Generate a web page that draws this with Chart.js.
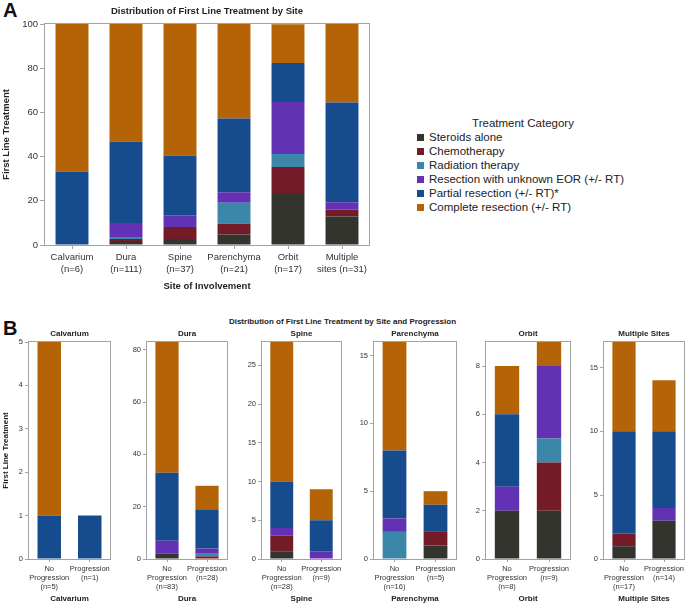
<!DOCTYPE html>
<html>
<head>
<meta charset="utf-8">
<script src="https://cdn.jsdelivr.net/npm/chart.js@4"></script>
<style>
  body { margin: 0; width: 685px; height: 604px; overflow: hidden; background: #fff; position: relative; font-family: "Liberation Sans", Arial, sans-serif; }
  canvas { position: absolute; }
  .panel { position: absolute; font-weight: bold; font-size: 20px; line-height: 20px; color: #111; }
  .maintitle { position: absolute; left: 0; width: 685px; text-align: center; font-weight: bold; font-size: 8px; line-height: 10px; color: #222; }
  #legendA { position: absolute; left: 417px; top: 116px; width: 212px; font-size: 11.5px; line-height: 14px; color: #222; }
  #legendA .ttl { text-align: center; }
  #legendA .row { display: flex; align-items: center; height: 14px; white-space: nowrap; }
  #legendA .sw { width: 7px; height: 7px; margin-right: 5px; flex: none; }
</style>
</head>
<body>
<div class="panel" style="left:3px; top:0px;">A</div>
<div class="panel" style="left:3px; top:318px;">B</div>
<div class="maintitle" style="top:317px;">Distribution of First Line Treatment by Site and Progression</div>
<canvas id="chartA" width="375" height="300" style="left:0; top:0;"></canvas>
<div id="legendA"></div>

<script>
// categories
const siteLabels = [['Calvarium', '(n=6)'], ['Dura', '(n=111)'], ['Spine', '(n=37)'],
    ['Parenchyma', '(n=21)'], ['Orbit', '(n=17)'], ['Multiple', 'sites (n=31)']];
const treatments = ['Steroids alone', 'Chemotherapy', 'Radiation therapy',
    'Resection with unknown EOR (+/- RT)', 'Partial resection (+/- RT)*', 'Complete resection (+/- RT)'];
const treatmentColors = ['#33342e', '#741b28', '#3b87a9', '#6331b4', '#164b8d', '#b46406'];

// panel A - percent of patients per site
const pctSteroids   = [0, 1.8, 2.7, 4.8, 23.5, 12.9];
const pctChemo      = [0, 0.9, 5.4, 4.8, 11.8, 3.2];
const pctRadiation  = [0, 0.9, 0, 9.5, 5.9, 0];
const pctUnknownEOR = [0, 6.3, 5.4, 4.8, 23.5, 3.2];
const pctPartial    = [33.3, 36.9, 27.0, 33.3, 17.6, 45.2];
const pctComplete   = [66.7, 53.2, 59.5, 42.9, 17.6, 35.5];
const pctTicks = [0, 20, 40, 60, 80, 100];

// panel B - counts, [no progression, progression] for each site
const progSites = ['Calvarium', 'Dura', 'Spine', 'Parenchyma', 'Orbit', 'Multiple Sites'];
const progLabels = [
    [['No', 'Progression', '(n=5)'], ['Progression', '(n=1)']],
    [['No', 'Progression', '(n=83)'], ['Progression', '(n=28)']],
    [['No', 'Progression', '(n=28)'], ['Progression', '(n=9)']],
    [['No', 'Progression', '(n=16)'], ['Progression', '(n=5)']],
    [['No', 'Progression', '(n=8)'], ['Progression', '(n=9)']],
    [['No', 'Progression', '(n=17)'], ['Progression', '(n=14)']]
];
const nSteroids   = [[0, 0], [2, 0], [1, 0], [0, 1], [2, 2], [1, 3]];
const nChemo      = [[0, 0], [0, 1], [2, 0], [0, 1], [0, 2], [1, 0]];
const nRadiation  = [[0, 0], [0, 1], [0, 0], [2, 0], [0, 1], [0, 0]];
const nUnknownEOR = [[0, 0], [5, 2], [1, 1], [1, 0], [1, 3], [0, 1]];
const nPartial    = [[1, 1], [26, 15], [6, 4], [5, 2], [3, 0], [8, 6]];
const nComplete   = [[4, 0], [50, 9], [18, 4], [8, 1], [2, 1], [7, 4]];
const progTickStep = [1, 20, 5, 5, 2, 5];

// layout of the small multiples (plot left / right in px)
const progPlots = [[29, 110], [147, 227], [262, 341], [374, 456], [486, 570], [604, 684]];

const FONT = '"Liberation Sans", Arial, sans-serif';
const FRAME = '#a2a2a2';

Chart.defaults.font.family = FONT;
Chart.defaults.color = '#333';

const framePlugin = {
    id: 'frame',
    afterDatasetsDraw(chart) {
        const { ctx, chartArea: a } = chart;
        ctx.save();
        ctx.strokeStyle = FRAME;
        ctx.lineWidth = 1;
        ctx.strokeRect(Math.round(a.left) - 0.5, Math.round(a.top) - 0.5,
            Math.round(a.right - a.left) + 1, Math.round(a.bottom - a.top) + 1);
        ctx.restore();
    }
};

function stackedDatasets(seriesList) {
    return seriesList.map((data, i) => ({
        label: treatments[i],
        data: data,
        backgroundColor: treatmentColors[i],
        borderWidth: 0
    }));
}

function barOptions(cfg) {
    return {
        responsive: false,
        animation: false,
        devicePixelRatio: 1,
        layout: { padding: { left: 0, right: cfg.padRight, top: 0, bottom: 0 } },
        plugins: {
            legend: { display: false },
            tooltip: { enabled: false },
            title: {
                display: true,
                text: cfg.title,
                fullSize: false,
                color: '#222',
                font: { size: cfg.titleSize, weight: 'bold' },
                padding: cfg.titlePad
            }
        },
        scales: {
            x: {
                stacked: true,
                offset: true,
                afterFit: (s) => { s.height = cfg.xHeight; },
                border: { display: false },
                grid: { offset: false, drawOnChartArea: false, tickLength: cfg.tickLen, color: FRAME },
                ticks: {
                    color: '#333',
                    padding: 3,
                    maxRotation: 0,
                    minRotation: 0,
                    autoSkip: false,
                    font: { size: cfg.tickSize, lineHeight: cfg.lineHeight }
                },
                title: {
                    display: true,
                    text: cfg.xTitle,
                    color: '#222',
                    font: { size: cfg.titleSize, weight: 'bold' },
                    padding: { top: 0, bottom: cfg.xTitlePad }
                }
            },
            y: {
                stacked: true,
                min: 0,
                max: cfg.max,
                afterFit: (s) => { s.width = cfg.yWidth; },
                // round steps only, never the data maximum
                afterBuildTicks: (s) => {
                    const ticks = [];
                    for (let v = 0; v <= s.max; v += cfg.step) ticks.push({ value: v });
                    s.ticks = ticks;
                },
                border: { display: false },
                grid: { drawOnChartArea: false, tickLength: cfg.tickLen + 1, color: FRAME },
                ticks: { color: '#333', padding: 2, font: { size: cfg.tickSize } },
                title: {
                    display: cfg.yTitle !== '',
                    text: cfg.yTitle,
                    color: '#222',
                    font: { size: cfg.titleSize, weight: 'bold' },
                    padding: { top: 1, bottom: 0 }
                }
            }
        }
    };
}

// ---- panel A
new Chart(document.getElementById('chartA'), {
    type: 'bar',
    data: {
        labels: siteLabels,
        datasets: stackedDatasets([pctSteroids, pctChemo, pctRadiation, pctUnknownEOR, pctPartial, pctComplete])
            .map(d => Object.assign(d, { barPercentage: 0.61, categoryPercentage: 1 }))
    },
    options: barOptions({
        padRight: 6,
        title: 'Distribution of First Line Treatment by Site',
        titleSize: 9.5,
        titlePad: { top: 6, bottom: 6.6 },
        xHeight: 55,
        xTitle: 'Site of Involvement',
        xTitlePad: 8.3,
        tickLen: 4,
        tickSize: 9.5,
        lineHeight: 1.2,
        max: pctTicks[pctTicks.length - 1],
        step: pctTicks[1] - pctTicks[0],
        yWidth: 45,
        yTitle: 'First Line Treatment'
    }),
    plugins: [framePlugin]
});

// legend A, built from the same categories
const legendA = document.getElementById('legendA');
legendA.innerHTML = '<div class="ttl">Treatment Category</div>' + treatments.map((t, i) =>
    `<div class="row"><span class="sw" style="background:${treatmentColors[i]}"></span>${t}</div>`).join('');

// ---- panel B
progSites.forEach((site, k) => {
    const [pl, pr] = progPlots[k];
    const yW = k === 0 ? 29 : 28;
    const padR = 6;
    const cv = document.createElement('canvas');
    cv.width = yW + (pr - pl) + padR;
    cv.height = 280;
    cv.style.left = (pl - yW) + 'px';
    cv.style.top = '324px';
    document.body.appendChild(cv);

    const series = [nSteroids, nChemo, nRadiation, nUnknownEOR, nPartial, nComplete].map(s => s[k]);
    const totals = [0, 1].map(j => series.reduce((sum, s) => sum + s[j], 0));

    new Chart(cv, {
        type: 'bar',
        data: {
            labels: progLabels[k],
            datasets: stackedDatasets(series)
                .map(d => Object.assign(d, { barPercentage: 0.58, categoryPercentage: 1 }))
        },
        options: barOptions({
            padRight: padR,
            title: site,
            titleSize: 8,
            titlePad: { top: 4.5, bottom: 3.9 },
            xHeight: 45,
            xTitle: site,
            xTitlePad: 0.2,
            tickLen: 3,
            tickSize: 7.5,
            lineHeight: 1.16,
            max: Math.max(...totals),
            step: progTickStep[k],
            yWidth: yW,
            yTitle: k === 0 ? 'First Line Treatment' : ''
        }),
        plugins: [framePlugin]
    });
});
</script>
</body>
</html>
